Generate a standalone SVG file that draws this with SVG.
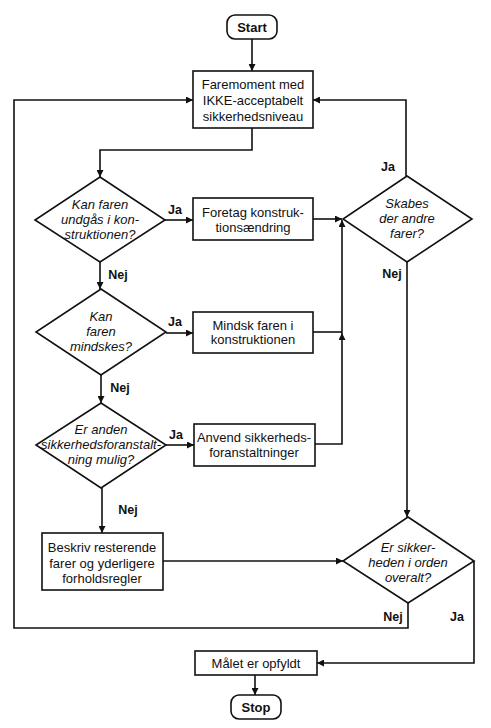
<svg xmlns="http://www.w3.org/2000/svg" width="491" height="728" viewBox="0 0 491 728">
<style>
.shape{fill:#fff;stroke:#111;stroke-width:1.6}
.t{font-family:"Liberation Sans",Arial,sans-serif;font-size:13px;fill:#111;text-anchor:middle;dominant-baseline:central}
.i{font-style:italic}
.b{font-weight:bold}
.lbl{font-family:"Liberation Sans",Arial,sans-serif;font-size:12.5px;font-weight:bold;fill:#111;text-anchor:middle;dominant-baseline:central}
.c{fill:none;stroke:#111;stroke-width:1.6}
</style>
<defs>
<marker id="ah" viewBox="0 0 10 10" refX="10" refY="5" markerWidth="7" markerHeight="7" markerUnits="userSpaceOnUse" orient="auto">
<path d="M0,0 L10,5 L0,10 z" fill="#111"/>
</marker>
</defs>
<rect width="491" height="728" fill="#fff"/>

<g id="connectors">
<path class="c" d="M252,39 V71" marker-end="url(#ah)"/>
<path class="c" d="M252,128 V150 H100 V177" marker-end="url(#ah)"/>
<path class="c" d="M165,220 H193" marker-end="url(#ah)"/>
<path class="c" d="M100,262 V289" marker-end="url(#ah)"/>
<path class="c" d="M166,333 H193" marker-end="url(#ah)"/>
<path class="c" d="M101,375 V403" marker-end="url(#ah)"/>
<path class="c" d="M166,445 H194" marker-end="url(#ah)"/>
<path class="c" d="M102,488 V533" marker-end="url(#ah)"/>
<path class="c" d="M313,219 H342" marker-end="url(#ah)"/>
<path class="c" d="M313,332 H342"/>
<path class="c" d="M315,444 H342 V333" marker-end="url(#ah)"/>
<path class="c" d="M342,333 V220" marker-end="url(#ah)"/>
<path class="c" d="M406,176 V100 H313" marker-end="url(#ah)"/>
<path class="c" d="M407,262 V517" marker-end="url(#ah)"/>
<path class="c" d="M163,561 H343" marker-end="url(#ah)"/>
<path class="c" d="M408,603 V628 H14 V100 H193" marker-end="url(#ah)"/>
<path class="c" d="M474,561 V663 H317" marker-end="url(#ah)"/>
<path class="c" d="M255,675 V695" marker-end="url(#ah)"/>
<text class="lbl" x="175" y="210">Ja</text>
<text class="lbl" x="175" y="322">Ja</text>
<text class="lbl" x="176" y="435">Ja</text>
<text class="lbl" x="118" y="275">Nej</text>
<text class="lbl" x="120" y="388">Nej</text>
<text class="lbl" x="128" y="510">Nej</text>
<text class="lbl" x="388" y="167">Ja</text>
<text class="lbl" x="392" y="274">Nej</text>
<text class="lbl" x="393" y="617">Nej</text>
<text class="lbl" x="457" y="617">Ja</text>
</g>

<g id="start">
<rect class="shape" x="227" y="15" width="50" height="24" rx="8"/>
<text class="t b" x="252" y="27">Start</text>
</g>

<g id="faremoment">
<rect class="shape" x="193" y="71" width="120" height="57"/>
<text class="t" x="253" y="84">Faremoment med</text>
<text class="t" x="253" y="100">IKKE-acceptabelt</text>
<text class="t" x="253" y="116">sikkerhedsniveau</text>
</g>

<g id="d-undgaas">
<polygon class="shape" points="100,177 165,220 100,262 35,220"/>
<text class="t i" x="100" y="204">Kan faren</text>
<text class="t i" x="100" y="219">undgås i kon-</text>
<text class="t i" x="100" y="234">struktionen?</text>
</g>

<g id="foretag">
<rect class="shape" x="193" y="198" width="120" height="42"/>
<text class="t" x="253" y="212">Foretag konstruk-</text>
<text class="t" x="253" y="227">tionsændring</text>
</g>

<g id="d-mindskes">
<polygon class="shape" points="101,289 166,332 101,375 36,332"/>
<text class="t i" x="101" y="316">Kan</text>
<text class="t i" x="101" y="331">faren</text>
<text class="t i" x="101" y="346">mindskes?</text>
</g>

<g id="mindsk">
<rect class="shape" x="193" y="312" width="120" height="41"/>
<text class="t" x="253" y="325">Mindsk faren i</text>
<text class="t" x="253" y="339">konstruktionen</text>
</g>

<g id="d-anden">
<polygon class="shape" points="101,403 166,445 101,488 36,445"/>
<text class="t i" x="101" y="429">Er anden</text>
<text class="t i" x="101" y="444">sikkerhedsforanstalt-</text>
<text class="t i" x="101" y="459">ning mulig?</text>
</g>

<g id="anvend">
<rect class="shape" x="194" y="424" width="121" height="42"/>
<text class="t" x="254" y="437">Anvend sikkerheds-</text>
<text class="t" x="254" y="452">foranstaltninger</text>
</g>

<g id="d-skabes">
<polygon class="shape" points="407,176 472,219 407,262 343,219"/>
<text class="t i" x="407" y="203">Skabes</text>
<text class="t i" x="407" y="218">der andre</text>
<text class="t i" x="407" y="233">farer?</text>
</g>

<g id="beskriv">
<rect class="shape" x="42" y="533" width="121" height="57"/>
<text class="t" x="102" y="547">Beskriv resterende</text>
<text class="t" x="102" y="563">farer og yderligere</text>
<text class="t" x="102" y="578">forholdsregler</text>
</g>

<g id="d-orden">
<polygon class="shape" points="408,517 474,561 408,603 343,561"/>
<text class="t i" x="408" y="547">Er sikker-</text>
<text class="t i" x="408" y="562">heden i orden</text>
<text class="t i" x="408" y="577">overalt?</text>
</g>

<g id="maalet">
<rect class="shape" x="195" y="651" width="122" height="24"/>
<text class="t" x="256" y="663">Målet er opfyldt</text>
</g>

<g id="stop">
<rect class="shape" x="231" y="695" width="50" height="24" rx="8"/>
<text class="t b" x="256" y="707">Stop</text>
</g>
</svg>
